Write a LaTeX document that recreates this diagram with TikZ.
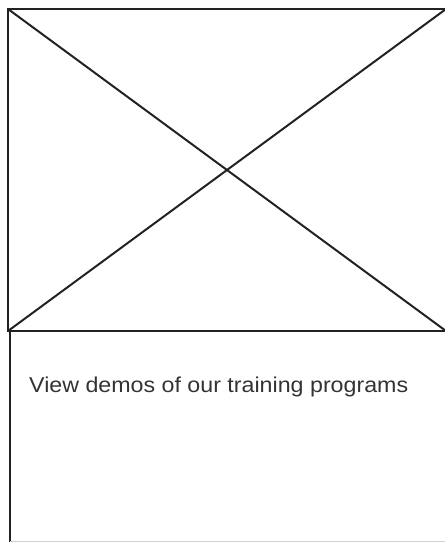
\documentclass[tikz,border=0pt]{standalone}
\usepackage{fontspec}
\setmainfont{Liberation Sans}[FakeStretch=1.08]
\definecolor{edge}{HTML}{222222}
\definecolor{txt}{HTML}{333333}
\definecolor{faint}{HTML}{D0D0D0}
\begin{document}
\begin{tikzpicture}[x=1pt,y=-1pt,
  frame/.style={draw=edge,line width=2pt},
  label/.style={text=txt,font=\fontsize{21.5}{24}\selectfont,anchor=base west,inner sep=0pt}]
\useasboundingbox (0,0) rectangle (445,542);
\coordinate (tl) at (8,9);
\coordinate (tr) at (446,9);
\coordinate (bl) at (8,331);
\coordinate (br) at (446,331);
\draw[frame] (tl) -- (tr) -- (br) -- (bl) -- cycle;
\draw[frame] (tl) -- (br);
\draw[frame] (tr) -- (bl);
\coordinate (lb) at (9.5,331);
\coordinate (lbe) at (9.5,542);
\draw[frame] (lb) -- (lbe);
\coordinate (bb1) at (10,541);
\coordinate (bb2) at (445,541);
\draw[faint,line width=1pt] (bb1) -- (bb2);
\node[label] (cap) at (29,392.3) {View demos of our training programs};
\end{tikzpicture}
\end{document}
